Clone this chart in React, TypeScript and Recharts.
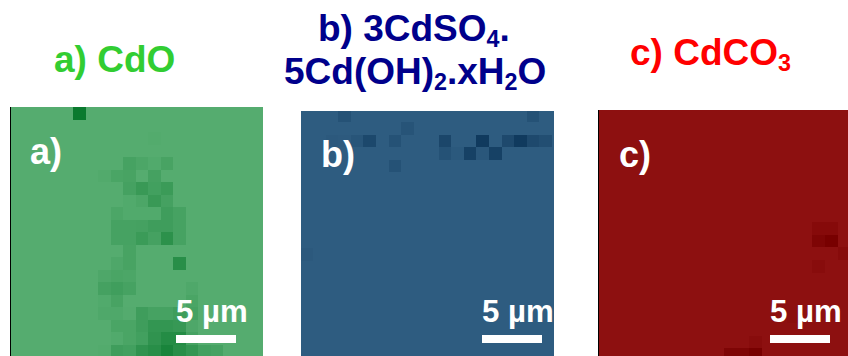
import React from 'react';
import { ScatterChart, Scatter, XAxis, YAxis } from 'recharts';

type Cell = [number, number, number]; // col, row, intensity 0-1

const cdoCells: Cell[] = [
  [5, 0, 1],
  [11, 2, 0.03],
  [9, 4, 0.2], [10, 4, 0.12], [11, 4, 0.05], [12, 4, 0.18],
  [7, 5, 0.04], [8, 5, 0.15], [9, 5, 0.18], [11, 5, 0.22],
  [9, 6, 0.22], [10, 6, 0.38], [11, 6, 0.25], [12, 6, 0.35],
  [9, 7, 0.05], [10, 7, 0.12], [11, 7, 0.38], [12, 7, 0.22],
  [8, 8, 0.12], [9, 8, 0.05], [10, 8, 0.05], [11, 8, 0.05], [12, 8, 0.3], [13, 8, 0.2],
  [8, 9, 0.2], [9, 9, 0.2], [10, 9, 0.22], [11, 9, 0.3], [12, 9, 0.3], [13, 9, 0.2],
  [8, 10, 0.2], [9, 10, 0.2], [10, 10, 0.35], [11, 10, 0.22], [12, 10, 0.55], [13, 10, 0.2],
  [9, 11, 0.18],
  [8, 12, 0.1], [9, 12, 0.18], [13, 12, 0.6],
  [7, 13, 0.1], [8, 13, 0.15], [9, 13, 0.12],
  [7, 14, 0.22], [8, 14, 0.28], [9, 14, 0.2], [14, 14, 0.08],
  [7, 15, 0.05], [8, 15, 0.18], [14, 15, 0.15],
  [7, 16, 0.08], [8, 16, 0.08], [9, 16, 0.02], [10, 16, 0.3], [11, 16, 0.2], [12, 16, 0.2], [13, 16, 0.3], [14, 16, 0.2],
  [8, 17, 0.15], [9, 17, 0.15], [10, 17, 0.3], [11, 17, 0.45], [12, 17, 0.45], [13, 17, 0.4], [14, 17, 0.1],
  [8, 18, 0.05], [9, 18, 0.15], [10, 18, 0.25], [11, 18, 0.5], [12, 18, 0.65], [13, 18, 0.65], [14, 18, 0.2],
  [7, 19, 0.03], [8, 19, 0.3], [9, 19, 0.25], [10, 19, 0.5], [11, 19, 0.6], [12, 19, 0.8], [13, 19, 0.6], [14, 19, 0.45], [15, 19, 0.25], [16, 19, 0.2],
];

const sulfateCells: Cell[] = [
  [3, 0, 0.3], [18, 0, 0.3],
  [8, 1, 0.25],
  [2, 2, 0.08], [3, 2, 0.05], [4, 2, 0.2], [5, 2, 0.6], [7, 2, 0.3],
  [11, 2, 0.65], [14, 2, 1], [16, 2, 0.55], [17, 2, 1], [18, 2, 0.55], [19, 2, 0.4],
  [11, 3, 0.3], [12, 3, 0.1], [13, 3, 0.8], [14, 3, 0.15], [15, 3, 0.8],
  [7, 4, 0.3],
  [0, 11, 0.08],
];

const carbonateCells: Cell[] = [
  [17, 9, 0.35], [18, 9, 0.35],
  [17, 10, 0.7], [18, 10, 1],
  [19, 11, 0.3],
  [17, 12, 0.25],
  [15, 16, 0.12],
  [12, 18, 0.25],
  [10, 19, 0.7], [11, 19, 0.7], [12, 19, 1],
];

const FONT = '"Liberation Sans", Arial, sans-serif';

const toRows = (cells: Cell[]) => cells.map(([col, row, value]) => ({ col, row, value }));

const hex = (c: string) => [1, 3, 5].map(i => parseInt(c.slice(i, i + 2), 16));
const mix = (base: string, dark: string, t: number) => {
  const a = hex(base);
  const b = hex(dark);
  return `rgb(${a.map((v, i) => Math.round(v + (b[i] - v) * t)).join(',')})`;
};

const overlay: React.CSSProperties = {
  position: 'absolute',
  color: '#fff',
  fontFamily: FONT,
  fontWeight: 700,
  lineHeight: 1,
  whiteSpace: 'nowrap',
};

interface PanelProps {
  cells: Cell[];
  left: number;
  top: number;
  width: number;
  cw: number;
  ch: number;
  startX: number; // first visible col, the image is cropped a little
  startY: number;
  base: string;
  dark: string;
  edge?: boolean;
  letter: string;
  letterX: number;
  letterY: number;
  barX: number;
}

const Panel: React.FC<PanelProps> = ({ cells, left, top, width, cw, ch, startX, startY, base, dark, edge, letter, letterX, letterY, barX }) => {
  const height = 250;
  return (
    <div style={{ position: 'absolute', left, top, width, height, overflow: 'hidden', background: base }}>
      <ScatterChart width={width} height={height} margin={{ top: 0, right: 0, bottom: 0, left: 0 }}>
        <XAxis type="number" dataKey="col" domain={[startX, startX + width / cw]} allowDataOverflow hide />
        <YAxis type="number" dataKey="row" domain={[startY, startY + height / ch]} allowDataOverflow reversed hide />
        <Scatter
          data={toRows(cells)}
          isAnimationActive={false}
          shape={(p: any) => (
            <rect x={p.cx} y={p.cy} width={cw} height={ch} fill={mix(base, dark, p.payload.value)} shapeRendering="crispEdges" />
          )}
        />
      </ScatterChart>
      {edge && <div style={{ position: 'absolute', left: 0, top: 0, width: 1, height, background: '#000' }} />}
      <span style={{ ...overlay, fontSize: 36, left: letterX, top: letterY }}>{letter}</span>
      <span style={{ ...overlay, fontSize: 31.2, left: barX, top: 296 - top }}>5 µm</span>
      <div style={{ position: 'absolute', left: barX, top: 335 - top, width: 60, height: 8, background: '#fff' }} />
    </div>
  );
};

const Sub: React.FC<{ children: React.ReactNode }> = ({ children }) => (
  <span style={{ fontSize: '0.63em', position: 'relative', top: '0.24em' }}>{children}</span>
);

const title = (left: number, top: number, color: string): React.CSSProperties => ({
  position: 'absolute',
  left,
  top,
  color,
  fontFamily: FONT,
  fontWeight: 700,
  fontSize: 37,
  lineHeight: 1,
  whiteSpace: 'nowrap',
});

export default function App() {
  return (
    <div style={{ position: 'absolute', left: 0, top: 0, width: 848, height: 356, overflow: 'hidden', background: '#fff' }}>
      <div style={title(54, 41, '#32CD32')}>a) CdO</div>
      <div style={title(318, 10, '#00008B')}>b) 3CdSO<Sub>4</Sub>.</div>
      <div style={title(284, 53, '#00008B')}>5Cd(OH)<Sub>2</Sub>.xH<Sub>2</Sub>O</div>
      <div style={title(630, 34, '#FF0000')}>c) CdCO<Sub>3</Sub></div>

      <Panel cells={cdoCells} left={10} top={107} width={253} cw={12.5} ch={12.5} startX={-0.04} startY={0} base="#55AC6F" dark="#0A7A2E" edge letter="a)" letterX={20} letterY={27} barX={166} />
      <Panel cells={sulfateCells} left={301} top={111} width={253} cw={12.55} ch={12.6} startX={0.02} startY={0.125} base="#2E5C80" dark="#103A5E" letter="b)" letterX={20} letterY={26} barX={181} />
      <Panel cells={carbonateCells} left={598} top={110} width={253} cw={12.6} ch={12.6} startX={-0.02} startY={0.09} base="#8D1010" dark="#780000" edge letter="c)" letterX={21} letterY={27} barX={172} />
    </div>
  );
}
